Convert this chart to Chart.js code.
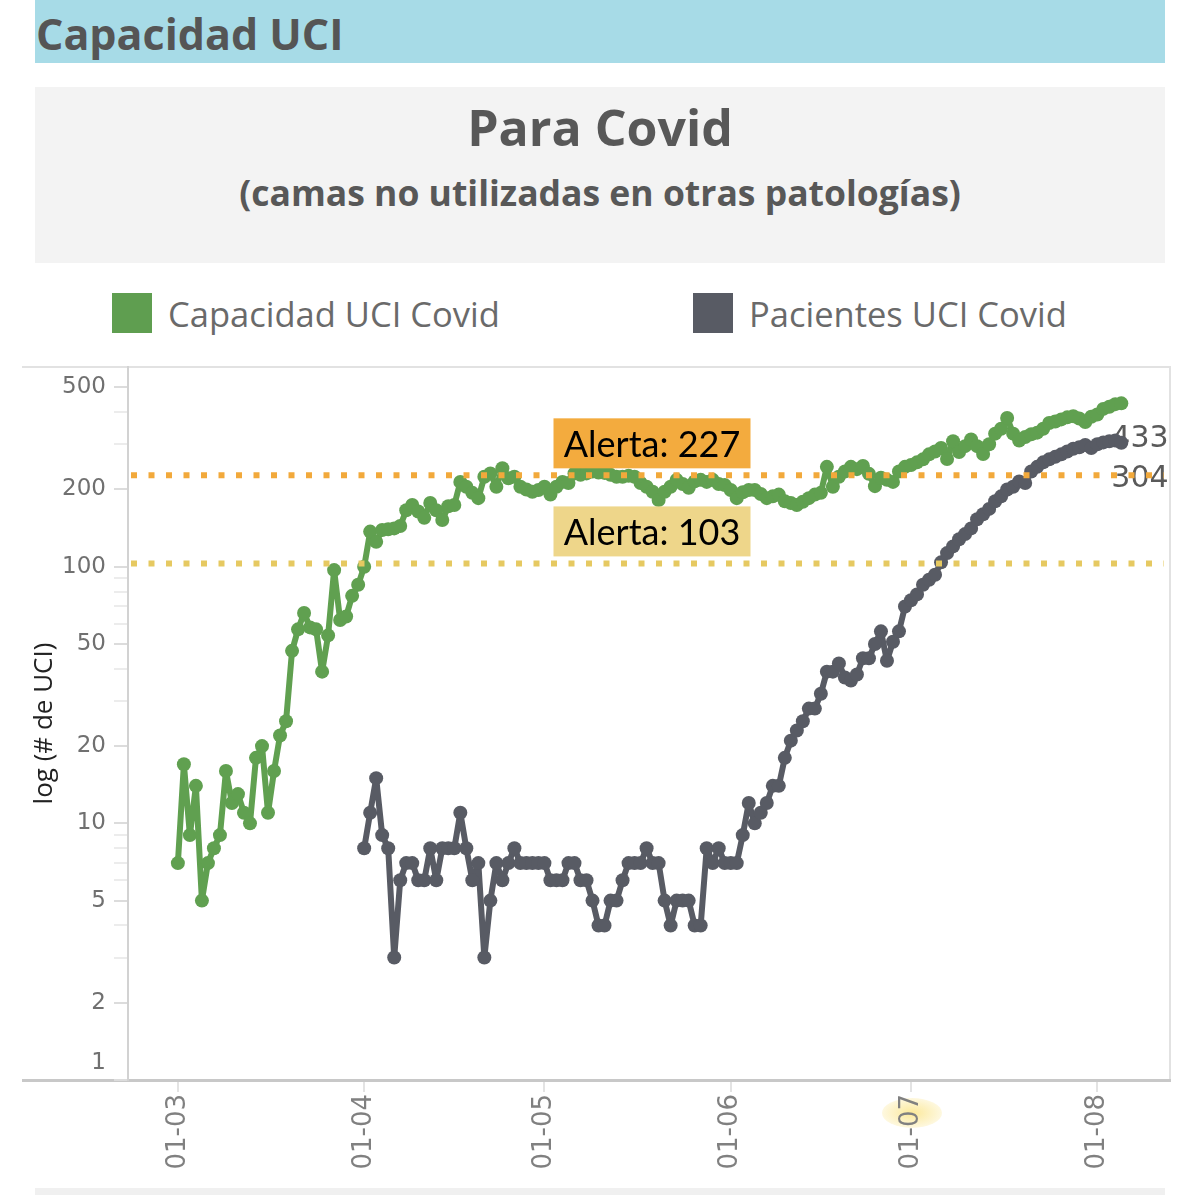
<!DOCTYPE html>
<html><head><meta charset="utf-8">
<script src="https://cdn.jsdelivr.net/npm/chart.js@4.4.0/dist/chart.umd.min.js"></script>
<style>
html,body{margin:0;padding:0;background:#fff;}
body{width:1200px;height:1195px;position:relative;overflow:hidden;}
#hdr{position:absolute;left:35px;top:0;width:1130px;height:63px;background:#a7dbe7;}
#hdr span{position:absolute;left:1px;top:9px;font:bold 43px "Open Sans",sans-serif;color:#555;line-height:50px;}
#tbox{position:absolute;left:35px;top:87px;width:1130px;height:176px;background:#f3f3f3;}
.lg{position:absolute;top:293px;width:40px;height:40px;}
.lt{position:absolute;top:290px;font:34.5px "Open Sans",sans-serif;color:#6a6a6a;line-height:48px;}
#bot{position:absolute;left:35px;top:1188px;width:1130px;height:7px;background:#f0f0f0;}
#blob{position:absolute;left:882px;top:1098px;width:60px;height:30px;border-radius:50%;background:radial-gradient(ellipse at center, rgba(250,225,120,0.75) 0%, rgba(250,225,120,0.35) 55%, rgba(250,225,120,0) 100%);}
#cv{position:absolute;left:0;top:360px;}
</style></head>
<body>
<div id="hdr"><span>Capacidad UCI</span></div>
<div id="tbox"></div>
<div style="position:absolute;left:0;width:1200px;text-align:center;font:bold 50px 'Open Sans',sans-serif;color:#585858;top:95px;line-height:64px;">Para Covid</div>
<div style="position:absolute;left:0;width:1200px;text-align:center;font:bold 35.5px 'Open Sans',sans-serif;color:#585858;top:168px;line-height:48px;">(camas no utilizadas en otras patologías)</div>
<div class="lg" style="left:112px;background:#5f9e50;"></div>
<div class="lt" style="left:168px;">Capacidad UCI Covid</div>
<div class="lg" style="left:693px;background:#585b64;"></div>
<div class="lt" style="left:749px;">Pacientes UCI Covid</div>
<div id="blob"></div>
<canvas id="cv" width="1200" height="835"></canvas>
<div id="bot"></div>
<script>
// ---- data (day index: 0 = 1 March) ----
const seriesNames = ['Capacidad UCI Covid', 'Pacientes UCI Covid'];
const capacidadStartDay = 0;
const capacidadValues = [7,17,9,14,5,7,8,9,16,12,
 13,11,10,18,20,11,16,22,25,47,
 57,66,58,57,39,54,97,62,64,77,
 85,100,137,125,139,140,141,144,166,174,
 164,155,177,166,152,172,174,214,205,194,
 185,224,231,205,242,221,224,205,200,196,
 199,205,191,205,214,212,231,228,231,235,
 233,232,228,224,224,226,224,212,205,196,
 182,196,205,218,210,203,215,218,214,218,
 210,208,199,185,195,199,199,192,185,188,
 191,180,177,174,179,185,191,194,245,205,
 224,235,245,240,247,230,206,222,218,214,
 235,245,249,255,262,274,281,290,263,308,
 280,295,313,295,275,300,330,345,380,330,
 310,320,328,333,345,363,368,375,382,386,
 378,366,384,392,412,420,430,433];
const pacientesStartDay = 31;
const pacientesValues = [8,11,15,9,8,3,6,7,7,6,
 6,8,6,8,8,8,11,8,6,7,
 3,5,7,6,7,8,7,7,7,7,
 7,6,6,6,7,7,6,6,5,4,
 4,5,5,6,7,7,7,8,7,7,
 5,4,5,5,5,4,4,8,7,8,
 7,7,7,9,12,10,11,12,14,14,
 18,21,23,25,28,28,32,39,39,42,
 37,36,38,44,44,50,56,43,51,56,
 70,74,78,85,89,93,104,113,120,128,
 134,141,153,160,168,180,188,200,205,215,
 212,235,245,255,262,268,274,281,288,292,
 298,290,300,305,308,310,304];
const monthTickDays = [0,31,61,92,122,153];
const monthTickLabels = ['01-03','01-04','01-05','01-06','01-07','01-08'];
const yMajorTicks = [1,2,5,10,20,50,100,200,500];
const yMinorTicks = [3,4,6,7,8,9,30,40,60,70,80,90,300,400];
const alertValues = [227,103];
const alertLabels = ['Alerta: 227','Alerta: 103'];

const COL_GREEN = '#60a050', COL_DARK = '#585b64';
const ALERT_LINE = ['#f2a93b','#e6c961'];
const ALERT_BOX = ['#f3ab3e','#eed68a'];
const TICK_FONT = '23px "DejaVu Sans"', TICK_COLOR = '#707070';

const toPts = (start, arr) => arr.map((v,i)=>({x:start+i, y:v}));

const overlay = {
  id:'overlay',
  beforeDraw(chart){
    const {ctx, chartArea:a} = chart;
    ctx.save();
    ctx.strokeStyle = '#e2e2e2'; ctx.lineWidth = 2;
    ctx.beginPath(); ctx.moveTo(22, a.top); ctx.lineTo(a.right, a.top); ctx.lineTo(a.right, a.bottom); ctx.stroke();
    ctx.strokeStyle = '#c8c8c8'; ctx.lineWidth = 3;
    ctx.beginPath(); ctx.moveTo(22, a.bottom+0.5); ctx.lineTo(a.left, a.bottom+0.5); ctx.stroke();
    ctx.restore();
  },
  afterDraw(chart){
    // bottom tick label kept inside the axis, as in the original
    const {ctx, scales:{y}} = chart;
    const v = yMajorTicks[0];
    ctx.save();
    ctx.font = TICK_FONT; ctx.fillStyle = TICK_COLOR;
    ctx.textAlign = 'right'; ctx.textBaseline = 'middle';
    ctx.fillText(String(v), y.right - 14 - 8, y.getPixelForValue(v) - 17);
    ctx.restore();
  },
  beforeDatasetsDraw(chart){
    const {ctx, scales:{x,y}} = chart;
    ctx.save();
    ctx.font = '30px "DejaVu Sans"';
    ctx.fillStyle = '#5a5a5a';
    ctx.textAlign = 'left'; ctx.textBaseline = 'middle';
    chart.data.datasets.forEach(ds=>{
      const last = ds.data[ds.data.length-1];
      const px = x.getPixelForValue(last.x), py = y.getPixelForValue(last.y);
      ctx.fillText(String(last.y), px-10, py+36);
    });
    ctx.restore();
  },
  afterDatasetsDraw(chart){
    const {ctx, chartArea:a, scales:{y}} = chart;
    ctx.save();
    alertValues.forEach((v,i)=>{
      const py = y.getPixelForValue(v);
      ctx.strokeStyle = ALERT_LINE[i]; ctx.lineWidth = 6; ctx.setLineDash([6,11.5]);
      ctx.beginPath(); ctx.moveTo(a.left+3, py); ctx.lineTo(a.right-6, py); ctx.stroke();
    });
    ctx.setLineDash([]);
    ctx.font = '36px Lato';
    ctx.textAlign = 'center'; ctx.textBaseline = 'middle';
    alertValues.forEach((v,i)=>{
      const py = y.getPixelForValue(v);
      const cx = (a.left+a.right)/2 + 3, w = 197, h = 50;
      const bottom = py - 7;
      ctx.fillStyle = ALERT_BOX[i];
      ctx.fillRect(cx-w/2, bottom-h, w, h);
      ctx.fillStyle = '#000';
      ctx.fillText(alertLabels[i], cx, bottom-h/2+2);
    });
    ctx.restore();
  }
};

new Chart(document.getElementById('cv'), {
  type:'line',
  data:{datasets:[
    {label:seriesNames[0], data:toPts(capacidadStartDay, capacidadValues), borderColor:COL_GREEN, backgroundColor:COL_GREEN, borderWidth:6, pointRadius:7, pointBorderWidth:0, borderJoinStyle:'round', borderCapStyle:'round', tension:0},
    {label:seriesNames[1], data:toPts(pacientesStartDay, pacientesValues), borderColor:COL_DARK, backgroundColor:COL_DARK, borderWidth:6, pointRadius:7, pointBorderWidth:0, borderJoinStyle:'round', borderCapStyle:'round', tension:0}
  ]},
  options:{
    responsive:false, animation:false, devicePixelRatio:1,
    layout:{padding:{top:5,right:30,left:0,bottom:0}},
    plugins:{legend:{display:false}, tooltip:{enabled:false}},
    scales:{
      x:{type:'linear', min:-8.3, max:165.1,
        afterBuildTicks:s=>{s.ticks = monthTickDays.map(v=>({value:v}));},
        afterFit:s=>{s.height = 115; s.paddingLeft = 0; s.paddingRight = 0;},
        ticks:{autoSkip:false, minRotation:90, maxRotation:90, padding:2, color:'#808080', font:{family:'DejaVu Sans', size:26},
          callback:(v)=>{const k = monthTickDays.indexOf(v); return k>=0 ? monthTickLabels[k] : '';}},
        grid:{drawOnChartArea:false, tickLength:12, color:'#e3e3e3', lineWidth:2},
        border:{color:'#c8c8c8', width:3}
      },
      y:{type:'logarithmic', min:1, max:600,
        afterBuildTicks:s=>{s.ticks = yMajorTicks.concat(yMinorTicks).sort((a,b)=>a-b).map(v=>({value:v, major:yMajorTicks.includes(v)}));},
        afterFit:s=>{s.width = 128; s.paddingTop = 0; s.paddingBottom = 0;},
        ticks:{autoSkip:false, padding:8, color:TICK_COLOR, font:{family:'DejaVu Sans', size:23},
          callback:(v)=> (yMajorTicks.includes(v) && v !== yMajorTicks[0]) ? String(v) : ''},
        grid:{drawOnChartArea:false, tickLength:14, color:(c)=> c.tick && c.tick.major ? '#dcdcdc' : '#ececec', lineWidth:2},
        border:{color:'#d2d2d2', width:2},
        title:{display:true, text:'log (# de UCI)', color:'#222', font:{family:'Open Sans', size:26}, padding:{top:29,bottom:0}}
      }
    }
  },
  plugins:[overlay]
});
</script>
</body></html>
